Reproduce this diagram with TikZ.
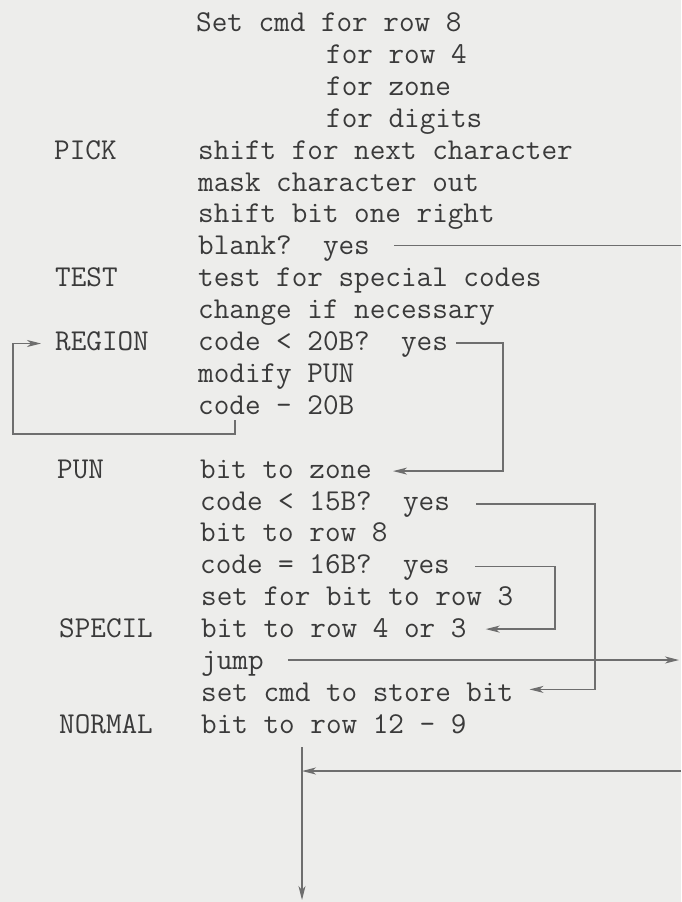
\documentclass[tikz,border=0pt]{standalone}
\usetikzlibrary{arrows.meta}
\definecolor{paper}{RGB}{237,237,235}
\definecolor{ink}{RGB}{58,58,58}
\definecolor{wire}{RGB}{110,110,110}
\tikzset{
  txt/.style={font=\fontsize{30.3}{32}\selectfont\ttfamily\frenchspacing, text=ink, inner sep=0pt, anchor=base west},
  ln/.style={draw=wire, line width=1.3pt},
  arr/.style={ln, -{Stealth[length=14pt,width=7pt,inset=4pt]}}
}
\begin{document}
\begin{tikzpicture}[x=1pt,y=-1pt]
\fill[paper] (0,0) rectangle (681,902);
\useasboundingbox (0,0) rectangle (681,902);
% main column
\node[txt] (t0)  at (196,31.5)  {Set cmd for row 8};
\node[txt] (t1)  at (326,63.4)  {for row 4};
\node[txt] (t2)  at (326,95.3)  {for zone};
\node[txt] (t3)  at (326,127.2) {for digits};
\node[txt] (t4)  at (198,159.1) {shift for next character};
\node[txt] (t5)  at (198,191.0) {mask character out};
\node[txt] (t6)  at (198,222.9) {shift bit one right};
\node[txt] (t7)  at (198,254.8) {blank?\ \ yes};
\node[txt] (t8)  at (198,286.7) {test for special codes};
\node[txt] (t9)  at (198,318.6) {change if necessary};
\node[txt] (t10) at (198,350.5) {code < 20B?\ \ yes};
\node[txt] (t11) at (198,382.4) {modify PUN};
\node[txt] (t12) at (198,414.3) {code - 20B};
\node[txt] (t14) at (200,478.6) {bit to zone};
\node[txt] (t15) at (200,510.0) {code < 15B?\ \ yes};
\node[txt] (t16) at (200,541.9) {bit to row 8};
\node[txt] (t17) at (200,573.8) {code = 16B?\ \ yes};
\node[txt] (t18) at (201,605.7) {set for bit to row 3};
\node[txt] (t19) at (201,637.6) {bit to row 4 or 3};
\node[txt] (t20) at (201,669.5) {jump};
\node[txt] (t21) at (201,701.4) {set cmd to store bit};
\node[txt] (t22) at (201,733.3) {bit to row 12 - 9};
% labels
\node[txt] (lpick)   at (54,159.1) {PICK};
\node[txt] (ltest)   at (55,286.7) {TEST};
\node[txt] (lregion) at (55,350.5) {REGION};
\node[txt] (lpun)    at (57,478.6) {PUN};
\node[txt] (lspecil) at (59,637.6) {SPECIL};
\node[txt] (lnormal) at (59,733.3) {NORMAL};
% blank? yes -> off page
\coordinate (bS) at ([xshift=24pt,yshift=9.5pt]t7.base east);
\coordinate (bR) at (681,0);
\draw[ln] (bS) -- (bS -| bR);
% REGION yes -> PUN
\coordinate (rA) at ([xshift=8pt,yshift=7.5pt]t10.base east);
\coordinate (rB) at ([xshift=21pt,yshift=7.5pt]t14.base east);
\coordinate (rX) at (503,0);
\draw[arr] (rA) -- (rA -| rX) |- (rB);
% loop back to REGION
\coordinate (lS) at ([xshift=37pt,yshift=-6pt]t12.base west);
\coordinate (lC) at (13,434);
\coordinate (lE) at ([xshift=-14pt,yshift=7pt]lregion.base west);
\draw[arr] (lS) |- (lC) |- (lE);
% code < 15B yes -> set cmd to store bit
\coordinate (aA) at ([xshift=26pt,yshift=6pt]t15.base east);
\coordinate (aB) at ([xshift=16pt,yshift=12pt]t21.base east);
\coordinate (aX) at (595,0);
\draw[arr] (aA) -- (aA -| aX) |- (aB);
% code = 16B yes -> SPECIL
\coordinate (cA) at ([xshift=25pt,yshift=7pt]t17.base east);
\coordinate (cB) at ([xshift=19pt,yshift=8.5pt]t19.base east);
\coordinate (cX) at (555,0);
\draw[arr] (cA) -- (cA -| cX) |- (cB);
% jump -> off page
\coordinate (jA) at ([xshift=24pt,yshift=9.5pt]t20.base east);
\coordinate (jR) at (679,0);
\draw[arr] (jA) -- (jA -| jR);
% bottom
\coordinate (vT) at ([xshift=101pt,yshift=-14pt]t22.base west);
\coordinate (vB) at (302,900);
\coordinate (hR) at (681,771);
\draw[arr] (vT) -- (vT |- vB);
\draw[arr] (hR) -- (vT |- hR);
\end{tikzpicture}
\end{document}
